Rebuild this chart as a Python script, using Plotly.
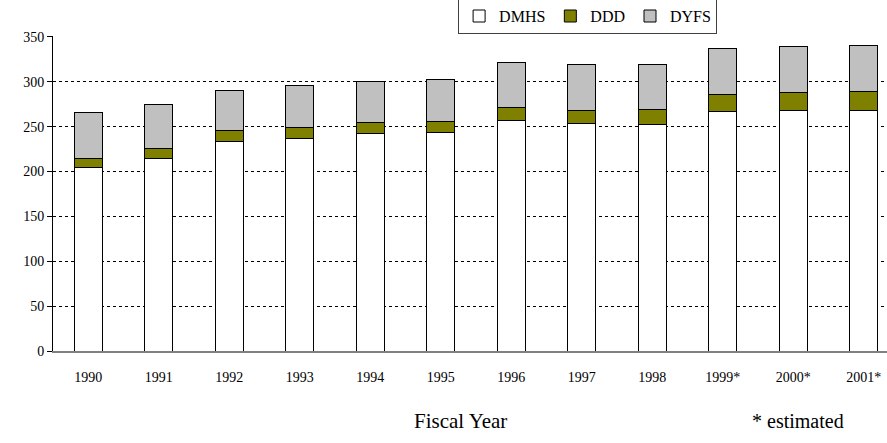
import plotly.graph_objects as go

years = ["1990", "1991", "1992", "1993", "1994", "1995", "1996", "1997", "1998", "1999*", "2000*", "2001*"]
dmhs = [204, 214.6, 233, 236.5, 242, 243, 256.8, 254, 252.8, 266.7, 268.4, 268.4]
ddd = [10.8, 11.1, 12.7, 12.2, 13, 12.8, 14.5, 14.4, 16.7, 18.8, 19.6, 20.4]
dyfs = [51.2, 49.3, 44.3, 47.3, 45.6, 47, 49.7, 50.4, 49.8, 51.5, 50.9, 52]
y_ticks = [0, 50, 100, 150, 200, 250, 300, 350]

serif = "Liberation Serif"

L, R, T, B = 53, 0, 36, 92
W, H = 887, 443

fig = go.Figure()
for name, vals, col in [("DMHS", dmhs, "#FFFFFF"), ("DDD", ddd, "#808000"), ("DYFS", dyfs, "#C0C0C0")]:
    fig.add_trace(go.Bar(
        x=years, y=vals, name=name, width=0.4,
        marker=dict(color=col, line=dict(color="#000000", width=1)),
    ))

fig.update_layout(
    barmode="stack",
    width=W, height=H,
    margin=dict(l=L, r=R, t=T, b=B, autoexpand=False),
    paper_bgcolor="white", plot_bgcolor="white",
    font=dict(family=serif, color="black", size=13),
    showlegend=True,
    legend=dict(
        orientation="h", x=0.641, xanchor="center", y=1.006, yanchor="bottom",
        bordercolor="#404040", borderwidth=1, bgcolor="white",
        font=dict(family=serif, size=16, color="black"), traceorder="normal",
        itemwidth=30, tracegroupgap=0,
    ),
    xaxis=dict(
        type="category", range=[-0.5, 11.33], showgrid=False,
        showline=True, linecolor="#808080", linewidth=2,
        ticks="", tickfont=dict(family=serif, size=14),
        ticklabelstandoff=12, automargin=False,
    ),
    yaxis=dict(
        range=[0, 351], tickvals=y_ticks, showgrid=True,
        gridcolor="black", griddash="dot", gridwidth=1,
        showline=True, linecolor="black", linewidth=1,
        ticks="outside", ticklen=5, tickcolor="black",
        tickfont=dict(family=serif, size=14), zeroline=False,
        automargin=False,
    ),
)

pw = W - L - R
ph = H - T - B
for text, px, py, sz in [("Fiscal Year", 460, 421, 21), ("* estimated", 798, 421, 20)]:
    fig.add_annotation(
        text=text, x=(px - L) / pw, y=(H - B - py) / ph, xref="paper", yref="paper",
        showarrow=False, xanchor="center", yanchor="middle",
        font=dict(family=serif, size=sz, color="black"),
    )

fig.write_html(
    "out.html",
    config={"displayModeBar": False},
    post_script="document.body.style.margin='0';document.body.style.padding='0';document.body.style.overflow='hidden';",
)
